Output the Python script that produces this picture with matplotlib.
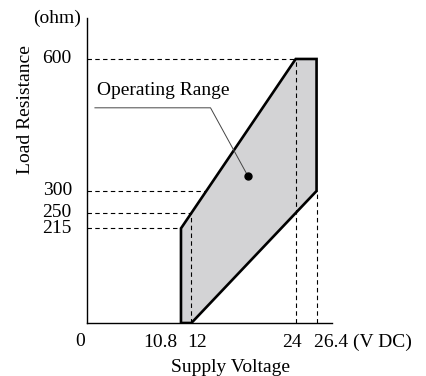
import matplotlib

matplotlib.use("Agg")
import matplotlib.pyplot as plt
from matplotlib.patches import Polygon
from matplotlib.transforms import ScaledTranslation

plt.rcParams["font.family"] = ["Liberation Serif", "DejaVu Serif"]
FS = 14

# operating range outline (V, ohm)
range_v = [10.8, 10.8, 24, 26.4, 26.4, 12]
range_r = [0, 215, 600, 600, 300, 0]

# reference lines
h_levels = [600, 300, 250, 215]
h_ends = [24, 26.4, 24, 10.8]
v_levels = [12, 24, 26.4]
v_ends = [250, 600, 300]

x_ticks = [10.8, 12, 24, 26.4]
x_labels = ["10.8", "12", "24", "26.4 (V DC)"]
y_ticks = [215, 250, 300, 600]

label_point = (18.5, 334)

fig = plt.figure(figsize=(4.27, 3.76), dpi=100)
ax = fig.add_axes([0.204, 0.141, 0.574, 0.811])
ax.set_xlim(0, 28.2)
ax.set_ylim(0, 693)

for y, xe in zip(h_levels, h_ends):
    ax.plot([0, xe], [y, y], color="black", lw=0.8, ls=(0, (4, 3)), zorder=1)
for x, ye in zip(v_levels, v_ends):
    ax.plot([x, x], [0, ye], color="black", lw=0.8, ls=(0, (4, 3)), zorder=3)

poly = Polygon(list(zip(range_v, range_r)), closed=True, facecolor="#d3d3d5",
               edgecolor="black", lw=1.9, joinstyle="miter", zorder=2)
ax.add_patch(poly)

# label with leader line
ax.text(1.1, 528, "Operating Range", fontsize=FS, ha="left", va="center")
ax.plot([0.9, 14.2, label_point[0]], [489, 489, label_point[1]],
        color="#444444", lw=0.7, zorder=4)
ax.plot(*label_point, "o", color="black", ms=5, zorder=5)

for s in ("top", "right"):
    ax.spines[s].set_visible(False)
ax.spines["left"].set_linewidth(1.0)
ax.spines["bottom"].set_linewidth(1.0)

ax.set_xticks(x_ticks)
ax.set_xticklabels(x_labels, fontsize=FS)
ax.set_yticks(y_ticks)
ax.set_yticklabels([str(v) for v in y_ticks], fontsize=FS, va="center")
ax.tick_params(length=0, pad=8)
ax.tick_params(axis="y", pad=11)

# nudge crowded x labels (pixels at dpi 100)
shifts = [(-4, "right"), (6, "center"), (-4, "center"), (-3, "left")]
for lab, (dx, ha) in zip(ax.get_xticklabels(), shifts):
    lab.set_ha(ha)
    lab.set_transform(lab.get_transform() + ScaledTranslation(dx / 100, 0, fig.dpi_scale_trans))

ax.text(-0.75, -22, "0", fontsize=FS, ha="center", va="top")
ax.text(-0.75, 693, "(ohm)", fontsize=FS, ha="right", va="center")
ax.set_ylabel("Load Resistance", fontsize=FS, labelpad=0)
ax.yaxis.set_label_coords(-0.215, 0.70)
ax.set_xlabel("Supply Voltage", fontsize=FS, labelpad=1)
ax.xaxis.set_label_coords(0.585, -0.118)

fig.savefig("out.png", dpi=100)
